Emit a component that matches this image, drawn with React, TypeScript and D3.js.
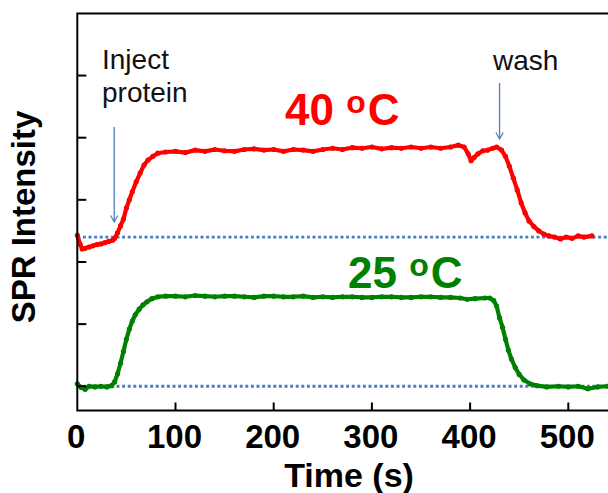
import * as d3 from "d3";

// SPR sensorgram (time in s, signal in tick units)
const redTime = [0, 3, 5, 8, 12, 16, 20, 24, 28, 32, 36, 38, 41, 44, 47, 50, 53, 56, 60, 64, 68, 72, 77, 82, 90,
  100, 110, 120, 130, 140, 150, 160, 170, 180, 190, 200, 210, 220, 230, 240, 250, 260, 270, 280, 290, 300,
  310, 320, 330, 340, 350, 360, 370, 380, 388, 394, 398, 401, 404, 408, 413, 418, 423, 427, 432, 436, 440,
  444, 448, 452, 456, 460, 465, 470, 475, 480, 486, 492, 498, 504, 510, 516, 524];
const redSignal = [2.43, 2.28, 2.21, 2.22, 2.24, 2.26, 2.28, 2.29, 2.31, 2.33, 2.35, 2.38, 2.47, 2.58, 2.69, 2.87,
  3.0, 3.13, 3.29, 3.43, 3.56, 3.64, 3.7, 3.75, 3.77, 3.78, 3.76, 3.8, 3.78, 3.81, 3.79, 3.78, 3.81, 3.82,
  3.8, 3.81, 3.78, 3.81, 3.8, 3.78, 3.81, 3.83, 3.81, 3.84, 3.83, 3.85, 3.82, 3.84, 3.83, 3.85, 3.83, 3.85,
  3.83, 3.85, 3.88, 3.85, 3.74, 3.63, 3.68, 3.74, 3.79, 3.8, 3.83, 3.85, 3.8, 3.7, 3.54, 3.35, 3.16, 2.95,
  2.79, 2.66, 2.57, 2.5, 2.45, 2.42, 2.4, 2.37, 2.4, 2.38, 2.42, 2.4, 2.42];

const greenTime = [0, 4, 8, 12, 18, 24, 30, 35, 38, 41, 44, 47, 50, 53, 56, 59, 63, 67, 71, 76, 82, 90, 100,
  110, 120, 130, 140, 150, 160, 170, 180, 190, 200, 210, 220, 230, 240, 250, 260, 270, 280, 290, 300, 310,
  320, 330, 340, 350, 360, 370, 380, 390, 397, 405, 415, 420, 424, 427, 430, 433, 436, 439, 442, 446, 450,
  455, 461, 468, 478, 490, 500, 510, 520, 530, 540];
const greenSignal = [0.04, -0.02, -0.05, 0.0, -0.01, 0.0, -0.01, 0.01, 0.07, 0.2, 0.37, 0.56, 0.76, 0.92, 1.05,
  1.15, 1.24, 1.31, 1.36, 1.41, 1.44, 1.45, 1.45, 1.44, 1.46, 1.45, 1.44, 1.45, 1.45, 1.44, 1.43, 1.45, 1.45,
  1.44, 1.44, 1.45, 1.43, 1.44, 1.43, 1.44, 1.44, 1.43, 1.43, 1.44, 1.44, 1.43, 1.43, 1.44, 1.44, 1.43, 1.43,
  1.42, 1.4, 1.41, 1.42, 1.42, 1.38, 1.29, 1.1, 0.95, 0.76, 0.58, 0.44, 0.3, 0.19, 0.1, 0.04, 0.01, -0.01,
  0.0, -0.01, 0.0, -0.04, -0.01, 0.0];

const xTicks = [0, 100, 200, 300, 400, 500];
const yTicks = [0, 1, 2, 3, 4, 5];
const baselines = [2.4, 0];
const injectTime = 37.6;
const washTime = 430;

const FONT = "Arial, 'Liberation Sans', sans-serif";
const W = 608, H = 493;

export default function App() {
  const x = d3.scaleLinear().domain([0, 550]).range([77.3, 617.4]);
  const y = d3.scaleLinear().domain([-0.39, 6]).range([410.5, 13.4]);

  const line = d3.line<[number, number]>()
    .x(d => x(d[0]))
    .y(d => y(d[1]));

  const red: [number, number][] = redTime.map((t, i) => [t, redSignal[i]]);
  const green: [number, number][] = greenTime.map((t, i) => [t, greenSignal[i]]);

  const left = x(0), right = x(550), top = y(6), bottom = y(-0.39);

  const arrow = (xp: number, y0: number, y1: number) =>
    `M${xp},${y0}V${y1}M${xp - 3.6},${y1 - 6.5}L${xp},${y1}L${xp + 3.6},${y1 - 6.5}`;

  return (
    <svg width={W} height={H} style={{ position: "absolute", left: 0, top: 0, background: "#fff" }}>
      {/* baselines */}
      {baselines.map(b => (
        <line key={b} x1={left} x2={W} y1={y(b)} y2={y(b)}
          stroke="#4A7EC2" strokeWidth={2.8} strokeDasharray="3 2.6" />
      ))}

      {/* series */}
      {[{ d: red, c: "#FF0000" }, { d: green, c: "#008000" }].map((s, k) => (
        <g key={k}>
          <path d={line(s.d) || ""} fill="none" stroke={s.c} strokeWidth={4.2}
            strokeLinejoin="round" strokeLinecap="round" />
          {s.d.map((p, i) => (
            <circle key={i} cx={x(p[0])} cy={y(p[1])} r={2.6} fill={s.c} />
          ))}
        </g>
      ))}

      {/* frame */}
      <path d={`M${right},${top}H${left}V${bottom}H${right}`} fill="none" stroke="#000" strokeWidth={2} />

      {/* ticks */}
      {yTicks.map(t => (
        <line key={t} x1={left} x2={left + 9} y1={y(t)} y2={y(t)} stroke="#000" strokeWidth={2} />
      ))}
      {xTicks.map(t => (
        <g key={t}>
          {t > 0 && <line x1={x(t)} x2={x(t)} y1={bottom} y2={bottom - 8} stroke="#000" strokeWidth={2} />}
          <text x={x(t) - 1} y={448} textAnchor="middle" fontFamily={FONT} fontWeight="bold" fontSize={33}>
            {t}
          </text>
        </g>
      ))}

      {/* axis titles */}
      <text x={349} y={487} textAnchor="middle" fontFamily={FONT} fontWeight="bold" fontSize={34}>Time (s)</text>
      <text transform="translate(35,217) rotate(-90)" textAnchor="middle" fontFamily={FONT}
        fontWeight="bold" fontSize={33}>SPR Intensity</text>

      {/* annotations */}
      <text fontFamily={FONT} fontSize={28} fill="#111">
        <tspan x={102} y={69}>Inject</tspan>
        <tspan x={102} y={101.5}>protein</tspan>
      </text>
      <text x={493} y={70} fontFamily={FONT} fontSize={28} fill="#111">wash</text>
      <path d={arrow(x(injectTime), 127, 222)} fill="none" stroke="#4F81BD" strokeWidth={1.3} />
      <path d={arrow(x(washTime), 83, 139)} fill="none" stroke="#4F81BD" strokeWidth={1.3} />

      <text x={285} y={125} fontFamily={FONT} fontWeight="bold" fontSize={44} fill="#FF0000">
        40 <tspan fontSize={32} dy={-12}>o</tspan><tspan dy={12} dx={2}>C</tspan>
      </text>
      <text x={348} y={288} fontFamily={FONT} fontWeight="bold" fontSize={44} fill="#008000">
        25 <tspan fontSize={32} dy={-12}>o</tspan><tspan dy={12} dx={2}>C</tspan>
      </text>
    </svg>
  );
}
